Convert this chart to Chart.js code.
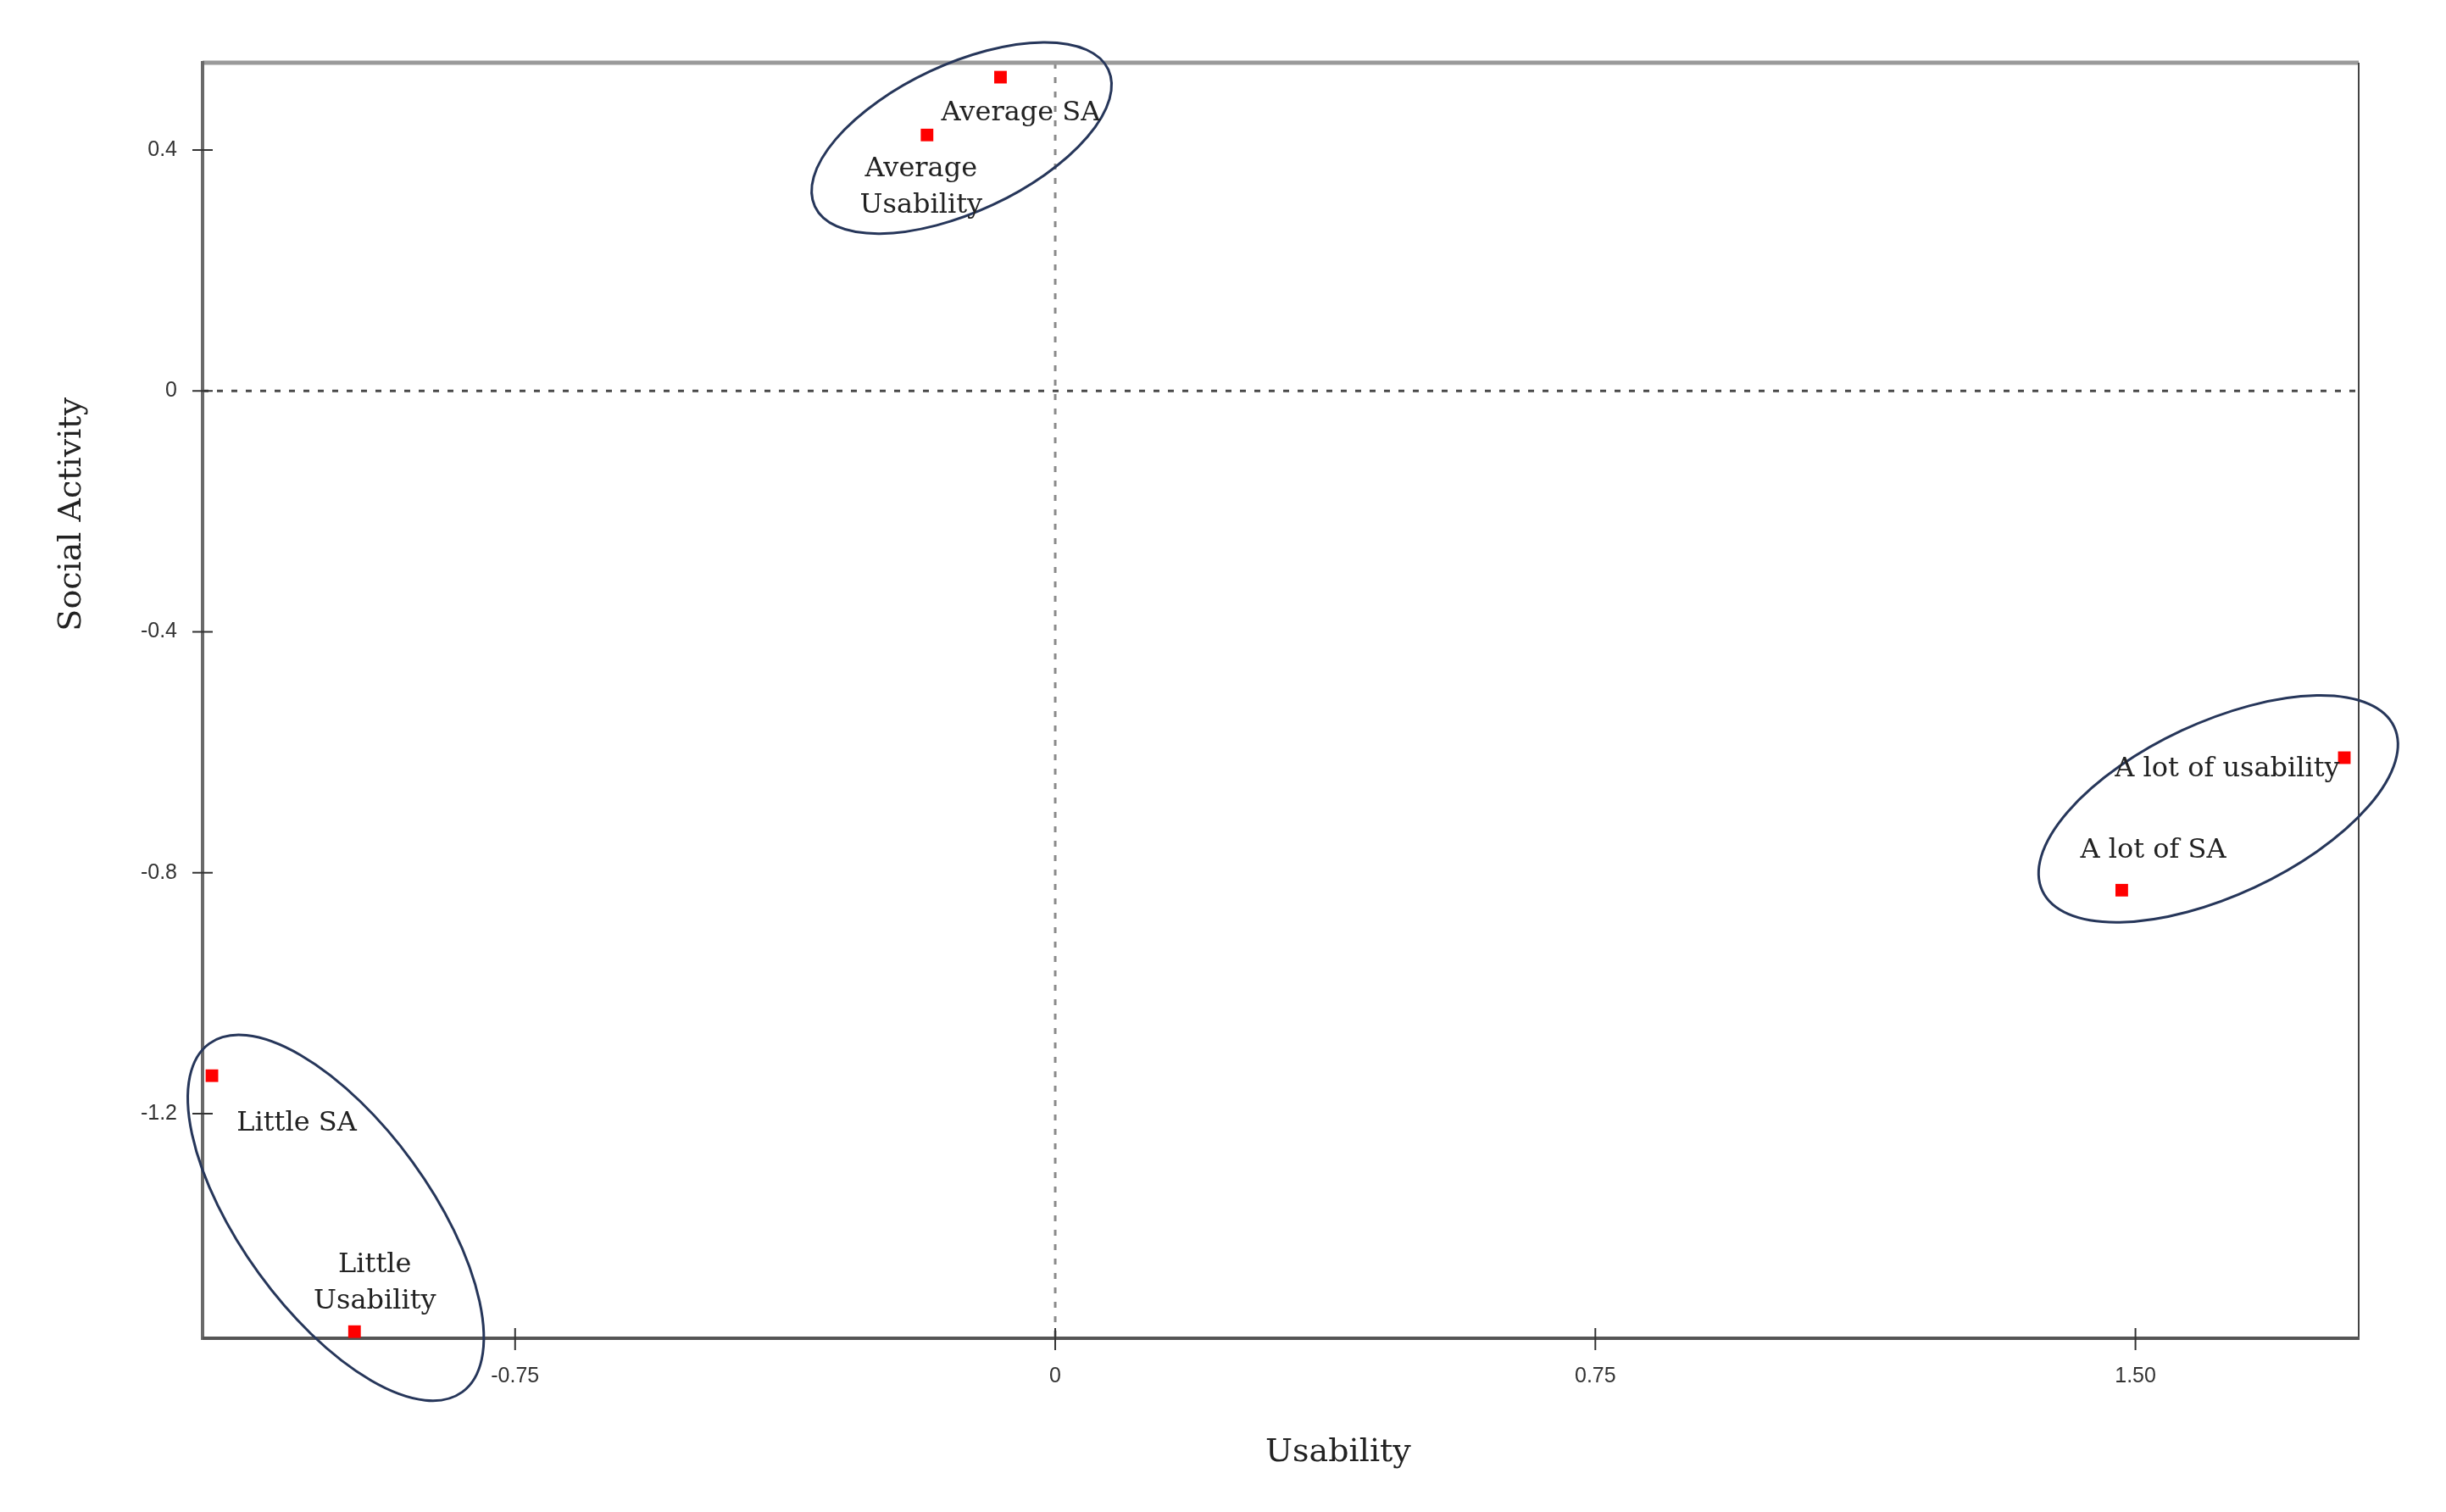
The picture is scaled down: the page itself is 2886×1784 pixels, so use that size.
<!DOCTYPE html>
<html>
<head>
<meta charset="utf-8">
<script src="https://cdn.jsdelivr.net/npm/chart.js@4.4.1/dist/chart.umd.min.js"></script>
<style>
  html, body { margin:0; padding:0; background:#fff; }
</style>
</head>
<body>
<canvas id="chart" width="2886" height="1784"></canvas>
<script>
// points of the correspondence map
const names = ['Average SA', 'Average\nUsability', 'A lot of usability', 'A lot of SA', 'Little SA', 'Little\nUsability'];
const usability = [-0.076, -0.178, 1.79, 1.481, -1.171, -0.973];
const social = [0.521, 0.425, -0.609, -0.829, -1.137, -1.562];

// axis ticks
const xTicks = [-0.75, 0, 0.75, 1.5];
const xTickLabels = ['-0.75', '0', '0.75', '1.50'];
const yTicks = [0.4, 0, -0.4, -0.8, -1.2];
const yTickLabels = ['0.4', '0', '-0.4', '-0.8', '-1.2'];

// cluster ring centres, in axis units
const ringUsability = [-0.13, 1.615, -0.999];
const ringSocial = [0.42, -0.694, -1.373];

// look of rings and labels (pixels)
const ringShape = [[191, 87, -25], [229, 102, -25], [254, 112, 54]];
const labelShift = [[24, 43], [-7, 40], [-138, 14], [37, -47], [100, 56], [24, -78]];

const serif = '"DejaVu Serif", "Liberation Serif", serif';
const sans = '"Liberation Sans", Arial, sans-serif';

const decor = {
  id: 'decor',
  beforeDatasetsDraw(chart) {
    const { ctx, chartArea: a, scales: { x, y } } = chart;
    ctx.save();
    // dotted zero lines
    const x0 = x.getPixelForValue(0), y0 = y.getPixelForValue(0);
    ctx.lineWidth = 3;
    ctx.setLineDash([7, 10]);
    ctx.strokeStyle = '#8a8a8a';
    ctx.beginPath(); ctx.moveTo(x0, a.top); ctx.lineTo(x0, a.bottom); ctx.stroke();
    ctx.strokeStyle = '#4a4a4a';
    ctx.beginPath(); ctx.moveTo(a.left, y0); ctx.lineTo(a.right, y0); ctx.stroke();
    ctx.setLineDash([]);
    // frame
    ctx.lineWidth = 5; ctx.strokeStyle = '#9a9a9a';
    ctx.beginPath(); ctx.moveTo(a.left, a.top); ctx.lineTo(a.right, a.top); ctx.stroke();
    ctx.lineWidth = 2; ctx.strokeStyle = '#444';
    ctx.beginPath(); ctx.moveTo(a.right, a.top); ctx.lineTo(a.right, a.bottom); ctx.stroke();
    ctx.lineWidth = 4; ctx.strokeStyle = '#6a6a6a';
    ctx.beginPath(); ctx.moveTo(a.left, a.top - 2); ctx.lineTo(a.left, a.bottom + 2); ctx.stroke();
    ctx.strokeStyle = '#555';
    ctx.beginPath(); ctx.moveTo(a.left, a.bottom); ctx.lineTo(a.right + 1, a.bottom); ctx.stroke();
    // tick marks crossing the axes
    ctx.lineWidth = 2; ctx.strokeStyle = '#333';
    ctx.beginPath();
    y.ticks.forEach(t => {
      const py = y.getPixelForValue(t.value);
      ctx.moveTo(a.left - 12, py); ctx.lineTo(a.left + 12, py);
    });
    x.ticks.forEach(t => {
      const px = x.getPixelForValue(t.value);
      ctx.moveTo(px, a.bottom - 12); ctx.lineTo(px, a.bottom + 14);
    });
    ctx.stroke();
    ctx.restore();
  },
  afterDatasetsDraw(chart) {
    const { ctx, chartArea: a, scales: { x, y } } = chart;
    ctx.save();
    // rings around clusters
    ctx.strokeStyle = '#26365a';
    ctx.lineWidth = 3;
    ringUsability.forEach((u, i) => {
      const [rx, ry, rot] = ringShape[i];
      ctx.beginPath();
      ctx.ellipse(x.getPixelForValue(u), y.getPixelForValue(ringSocial[i]), rx, ry, rot * Math.PI / 180, 0, Math.PI * 2);
      ctx.stroke();
    });
    // point labels
    ctx.fillStyle = '#222';
    ctx.font = '32px ' + serif;
    ctx.textAlign = 'center';
    ctx.textBaseline = 'middle';
    names.forEach((n, i) => {
      const px = x.getPixelForValue(usability[i]) + labelShift[i][0];
      const py = y.getPixelForValue(social[i]) + labelShift[i][1];
      n.split('\n').forEach((line, k) => ctx.fillText(line, px, py + k * 43));
    });
    // axis titles
    ctx.fillStyle = '#222';
    ctx.font = '38px ' + serif;
    ctx.fillText('Usability', a.left + (a.right - a.left) * 0.5267, 1714);
    ctx.translate(85, a.top + (a.bottom - a.top) * 0.354);
    ctx.rotate(-Math.PI / 2);
    ctx.fillText('Social Activity', 0, 0);
    ctx.restore();
  }
};

new Chart(document.getElementById('chart'), {
  type: 'scatter',
  data: {
    datasets: [{
      data: usability.map((u, i) => ({ x: u, y: social[i] })),
      backgroundColor: '#ff0000',
      borderWidth: 0,
      pointStyle: 'rect',
      pointRadius: 10.5,
      pointHoverRadius: 10.5
    }]
  },
  options: {
    responsive: false,
    animation: false,
    layout: { padding: { left: 0, top: 74, right: 103, bottom: 0 } },
    plugins: { legend: { display: false }, tooltip: { enabled: false } },
    scales: {
      x: {
        type: 'linear', min: -1.184, max: 1.81,
        afterBuildTicks: s => { s.ticks = xTicks.map(v => ({ value: v })); },
        afterFit: s => { s.height = 205; },
        ticks: {
          callback: (v, i) => xTickLabels[i],
          font: { family: sans, size: 25 }, color: '#333',
          padding: 30, maxRotation: 0, autoSkip: false
        },
        grid: { display: false, drawTicks: false },
        border: { display: false }
      },
      y: {
        type: 'linear', min: -1.573, max: 0.545,
        afterBuildTicks: s => { s.ticks = yTicks.map(v => ({ value: v })); },
        afterFit: s => { s.width = 239; },
        ticks: {
          callback: (v, i) => yTickLabels[i],
          font: { family: sans, size: 25 }, color: '#333',
          padding: 30, autoSkip: false
        },
        grid: { display: false, drawTicks: false },
        border: { display: false }
      }
    }
  },
  plugins: [decor]
});
</script>
</body>
</html>
